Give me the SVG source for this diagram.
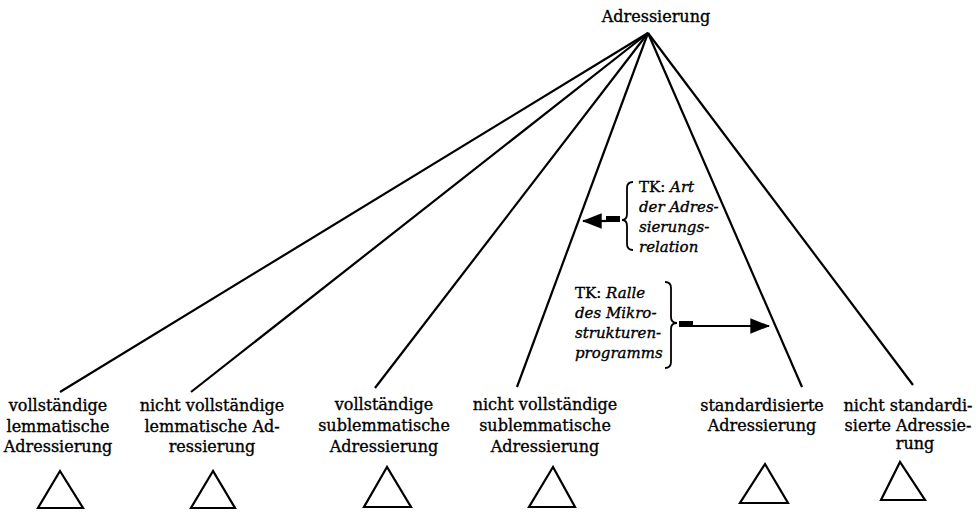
<svg xmlns="http://www.w3.org/2000/svg" width="978" height="512" viewBox="0 0 978 512">
<style>
text{font-family:"DejaVu Serif","Liberation Serif",serif;font-size:16px;fill:#000;stroke:#000;stroke-width:0.35}
.lbl{text-anchor:middle}
.tk{font-size:15px}
.it{font-style:italic}
.edge{stroke:#000;stroke-width:2.2;fill:none}
.tri{stroke:#000;stroke-width:2.2;fill:#fff}
.brace{stroke:#000;stroke-width:1.8;fill:none}
</style>
<defs>
<marker id="ah" markerWidth="9" markerHeight="7" refX="8.5" refY="3.5" orient="auto" markerUnits="strokeWidth">
<path d="M0,0 L9,3.5 L0,7 z" fill="#000"/>
</marker>
</defs>
<rect width="978" height="512" fill="#fff" stroke="none"/>
<g id="root"><text class="lbl" x="656" y="22">Adressierung</text></g>
<g id="connectors">
<line class="edge" x1="648" y1="33" x2="60" y2="392"/>
<line class="edge" x1="648" y1="33" x2="191" y2="392"/>
<line class="edge" x1="648" y1="33" x2="375" y2="388"/>
<line class="edge" x1="648" y1="33" x2="517" y2="387"/>
<line class="edge" x1="648" y1="33" x2="802" y2="387"/>
<line class="edge" x1="648" y1="33" x2="913" y2="385"/>
<g id="arrow1">
<rect x="606" y="216" width="14" height="6" fill="#000"/>
<line class="edge" x1="607" y1="221" x2="583" y2="221" marker-end="url(#ah)"/>
</g>
<g id="arrow2">
<rect x="679" y="321" width="14" height="6" fill="#000"/>
<line class="edge" x1="693" y1="326" x2="769" y2="326" marker-end="url(#ah)"/>
</g>
</g>
<g id="tk1">
<path class="brace" d="M633 182 Q627 182 627 188 L627 214 Q627 220 622 220 Q627 220 627 226 L627 244 Q627 250 633 250"/>
<text class="tk" x="639" y="192">TK: <tspan class="it">Art</tspan></text>
<text class="tk it" x="639" y="212">der Adres-</text>
<text class="tk it" x="639" y="232">sierungs-</text>
<text class="tk it" x="639" y="252">relation</text>
</g>
<g id="tk2">
<path class="brace" d="M665 282 Q671 282 671 288 L671 317 Q671 323 677 323 Q671 323 671 329 L671 362 Q671 368 665 368"/>
<text class="tk" x="575" y="298">TK: <tspan class="it">Ralle</tspan></text>
<text class="tk it" x="575" y="318">des Mikro-</text>
<text class="tk it" x="575" y="338">strukturen-</text>
<text class="tk it" x="575" y="358">programms</text>
</g>
<g id="n1">
<text class="lbl" x="58" y="411">vollständige</text>
<text class="lbl" x="58" y="432">lemmatische</text>
<text class="lbl" x="58" y="452">Adressierung</text>
<polygon class="tri" points="60,471 38,508 83,508"/>
</g>
<g id="n2">
<text class="lbl" x="212" y="411">nicht vollständige</text>
<text class="lbl" x="212" y="432">lemmatische Ad-</text>
<text class="lbl" x="212" y="452">ressierung</text>
<polygon class="tri" points="213,471 191,508 235,508"/>
</g>
<g id="n3">
<text class="lbl" x="384" y="410">vollständige</text>
<text class="lbl" x="384" y="431">sublemmatische</text>
<text class="lbl" x="384" y="452">Adressierung</text>
<polygon class="tri" points="387,467 364,507 411,507"/>
</g>
<g id="n4">
<text class="lbl" x="545" y="410">nicht vollständige</text>
<text class="lbl" x="545" y="431">sublemmatische</text>
<text class="lbl" x="545" y="452">Adressierung</text>
<polygon class="tri" points="553,467 529,507 575,507"/>
</g>
<g id="n5">
<text class="lbl" x="762" y="411">standardisierte</text>
<text class="lbl" x="762" y="431">Adressierung</text>
<polygon class="tri" points="765,464 740,503 788,503"/>
</g>
<g id="n6">
<text class="lbl" x="908" y="411">nicht standardi-</text>
<text class="lbl" x="908" y="431">sierte Adressie-</text>
<text class="lbl" x="915" y="449">rung</text>
<polygon class="tri" points="900,462 881,500 925,500"/>
</g>
</svg>
